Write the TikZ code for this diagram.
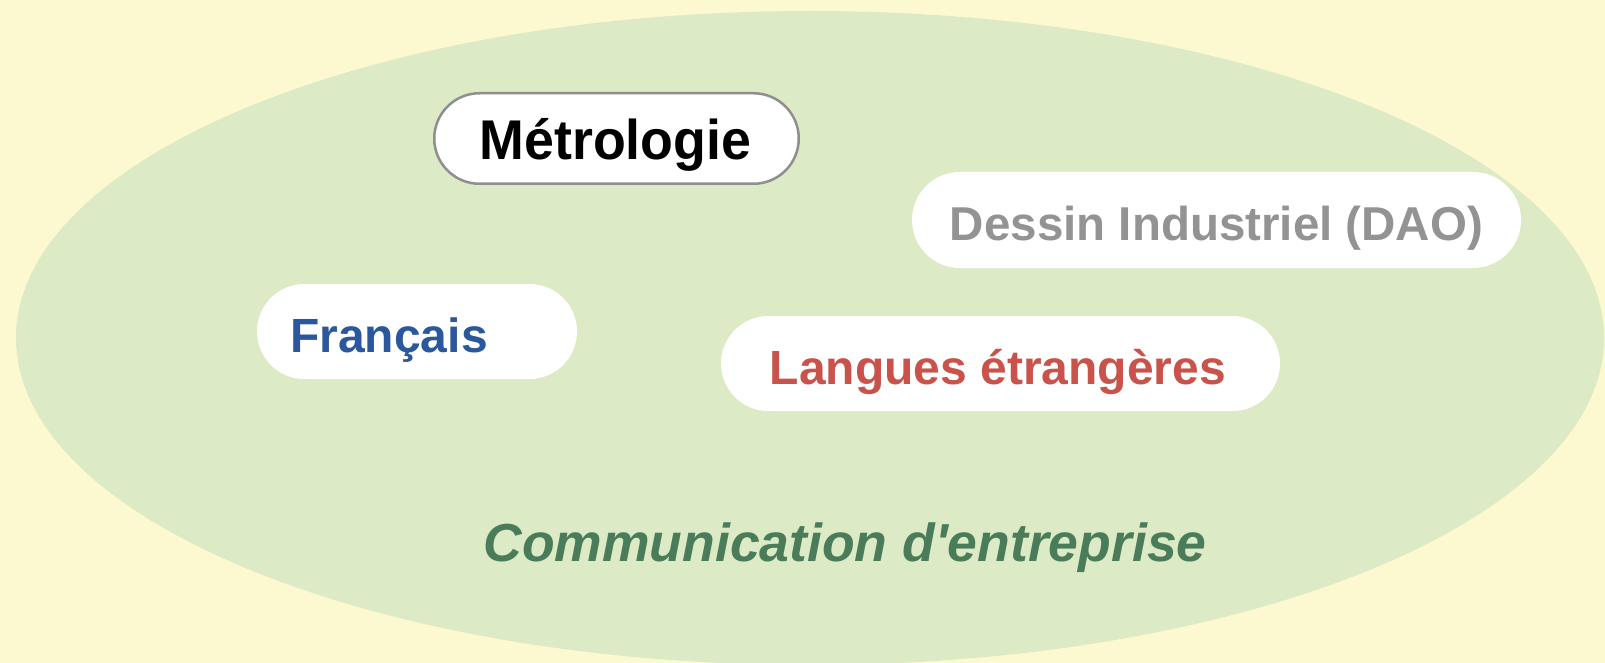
\documentclass[tikz,border=0pt]{standalone}
\usepackage{fontspec}
\setmainfont{Liberation Sans}
\usetikzlibrary{shapes.misc}

\definecolor{paper}{HTML}{FCF8D0}
\definecolor{field}{HTML}{DCEAC6}
\definecolor{rimgray}{HTML}{8F8F8F}
\definecolor{dessingray}{HTML}{939393}
\definecolor{frblue}{HTML}{2B579C}
\definecolor{langred}{HTML}{C9524A}
\definecolor{commgreen}{HTML}{4A7C5A}

\tikzset{
  pill/.style={rounded rectangle, fill=white, inner sep=0pt, draw=none},
  label/.style={anchor=base, inner sep=0pt, font=\bfseries},
}

\begin{document}
\begin{tikzpicture}[x=1pt, y=-1pt]
  \useasboundingbox (0,0) rectangle (1605,663);
  \fill[paper] (0,0) rectangle (1605,663);

  % the enterprise communication field
  \begin{scope}
    \clip (0,0) rectangle (1605,663);
    \fill[field] (810,338) ellipse [x radius=794, y radius=327];
  \end{scope}

  % subject pills
  \node[pill, draw=rimgray, line width=2.5pt,
        minimum width=364.5pt, minimum height=90.5pt] (metro) at (616.5,138.5) {};
  \node[pill, minimum width=609pt, minimum height=96pt] (dessin) at (1216.5,220) {};
  \node[pill, minimum width=320pt, minimum height=95pt] (francais) at (417,331.5) {};
  \node[pill, minimum width=559pt, minimum height=95pt] (langues) at (1000.5,363.5) {};

  % subject names
  \node[label, text=black] (metroText) at (615.5,160)
    {\fontsize{56}{60}\selectfont\scalebox{0.96}[1]{Métrologie}};
  \node[label, text=dessingray] (dessinText) at (1216.5,240)
    {\fontsize{47.5}{52}\selectfont Dessin Industriel (DAO)};
  \node[label, text=frblue] (francaisText) at (389,352)
    {\fontsize{48}{52}\selectfont Français};
  \node[label, text=langred] (languesText) at (998,384)
    {\fontsize{48}{52}\selectfont Langues étrangères};

  % field title
  \node[label, text=commgreen, font=\bfseries\itshape] (commText) at (845,561)
    {\fontsize{53.5}{58}\selectfont Communication d\textquotesingle entreprise};
\end{tikzpicture}
\end{document}
